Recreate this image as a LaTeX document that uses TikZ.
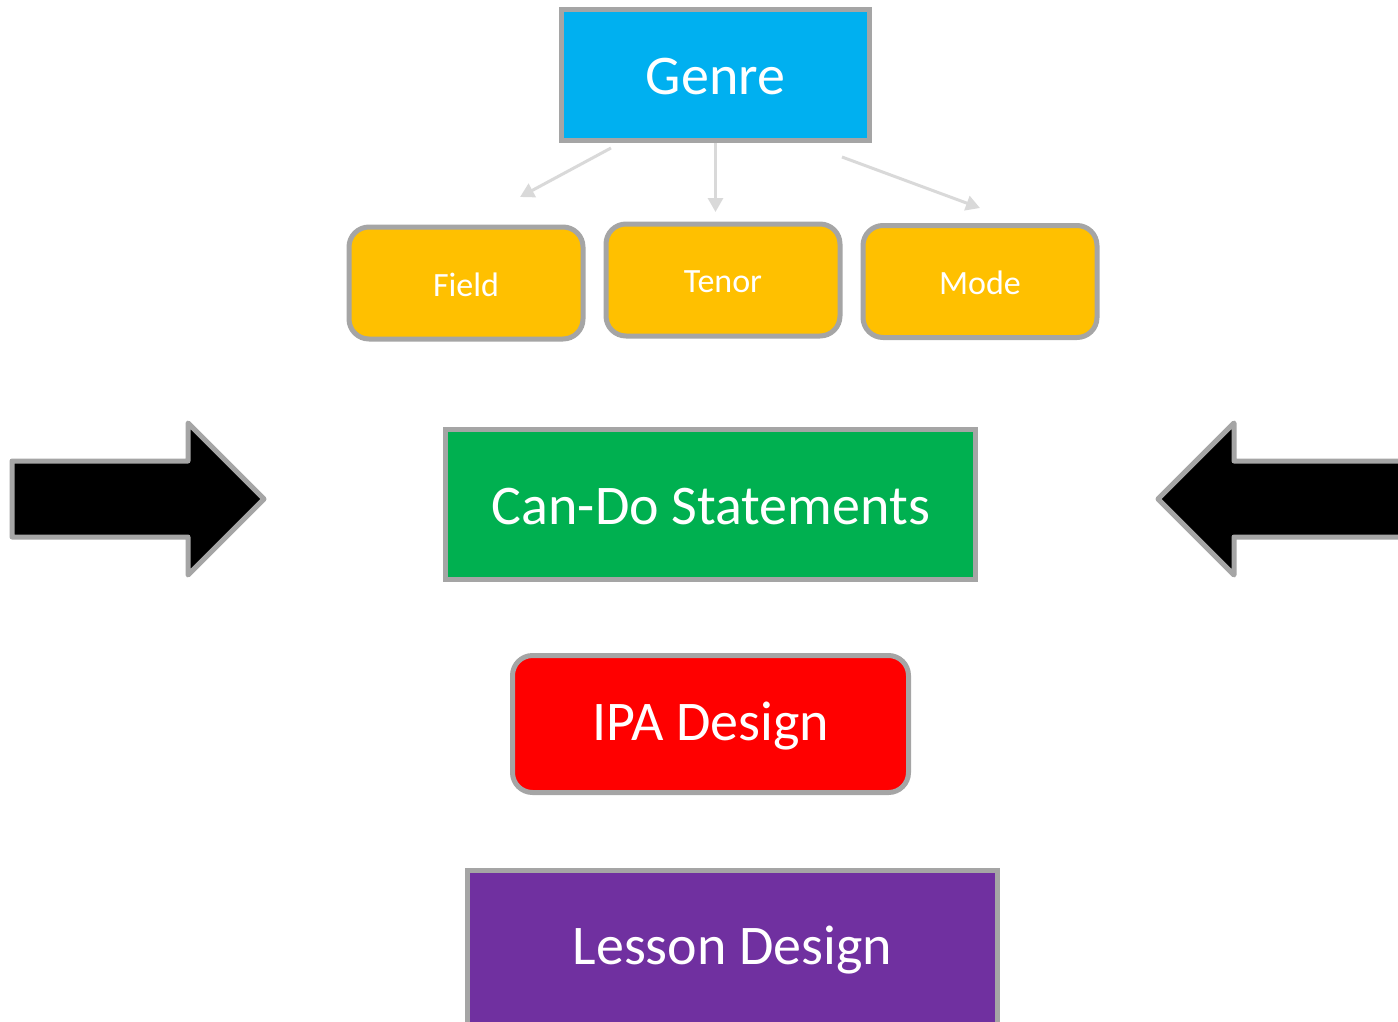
\documentclass[tikz,border=0pt]{standalone}
\usepackage{fontspec}
\setmainfont{Carlito}
\usetikzlibrary{arrows.meta}
\definecolor{edgegray}{HTML}{A5A5A5}
\definecolor{linkgray}{HTML}{D9D9D9}
\definecolor{genreblue}{HTML}{00B0F0}
\definecolor{subyellow}{HTML}{FFC000}
\definecolor{cangreen}{HTML}{00B050}
\definecolor{ipared}{HTML}{FF0000}
\definecolor{lessonpurple}{HTML}{7030A0}
\tikzset{
  x=1pt, y=-1pt,
  box/.style={draw=edgegray, line width=5pt, text=white, inner sep=0pt, anchor=center},
  bigbox/.style={box, font=\fontsize{56}{60}\selectfont},
  subbox/.style={box, fill=subyellow, rounded corners=20pt, minimum width=234pt, minimum height=112pt,
                 font=\fontsize{34}{40}\selectfont},
  link/.style={draw=linkgray, line width=3pt, -{Triangle[length=14pt,width=15pt]}},
  blockarrow/.style={draw=edgegray, fill=black, line width=5pt, line join=round},
  boxtext/.style={text=white, font=\fontsize{56}{60}\selectfont, anchor=center, inner sep=0pt},
}
\begin{document}
\begin{tikzpicture}
\useasboundingbox (0,0) rectangle (1398,1021);
\clip (0,0) rectangle (1398,1021);

% top level
\node[box, fill=genreblue, minimum width=308pt, minimum height=131pt] (genre) at (715.5,75) {};
\node[boxtext] (genretext) at (715.5,77) {Genre};

% field, tenor, mode
\node[subbox] (field) at (466,283) {};
\node[subbox] (tenor) at (723,280) {};
\node[subbox] (mode)  at (980,281.5) {};
\node[boxtext, font=\fontsize{34}{40}\selectfont] (fieldtext) at (466,284.5) {Field};
\node[boxtext, font=\fontsize{34}{40}\selectfont] (tenortext) at (723,281.5) {Tenor};
\node[boxtext, font=\fontsize{34}{40}\selectfont] (modetext)  at (980,283) {Mode};

% links from genre
\coordinate (g1) at (611,148);
\coordinate (f1) at (520,197);
\coordinate (t1) at (715.5,212);
\coordinate (m1) at (980,208);
\coordinate (g3) at (842,157);
\draw[link] (g1) -- (f1);
\draw[link] (genre.south) -- (t1);
\draw[link] (g3) -- (m1);

% main column
\node[box, fill=cangreen, minimum width=530pt, minimum height=150pt] (cando) at (710.5,504.5) {};
\node[boxtext] (candotext) at (711,507) {Can-Do Statements};
\node[box, fill=ipared, rounded corners=20pt, minimum width=396pt, minimum height=137pt] (ipa) at (710.5,724) {};
\node[boxtext] (ipatext) at (710.5,726) {IPA Design};
\node[box, fill=lessonpurple, minimum width=530pt, minimum height=202pt] (lesson) at (732.5,971.5) {};
\node[boxtext] (lessontext) at (732.5,950) {Lesson Design};

% block arrows pointing inward
\draw[blockarrow] (12,461) -- (188,461) -- (188,423) -- (264,499) -- (188,575) -- (188,537) -- (12,537) -- cycle;
\draw[blockarrow] (1410,461) -- (1234,461) -- (1234,423) -- (1158,499) -- (1234,575) -- (1234,537) -- (1410,537) -- cycle;
\end{tikzpicture}
\end{document}
